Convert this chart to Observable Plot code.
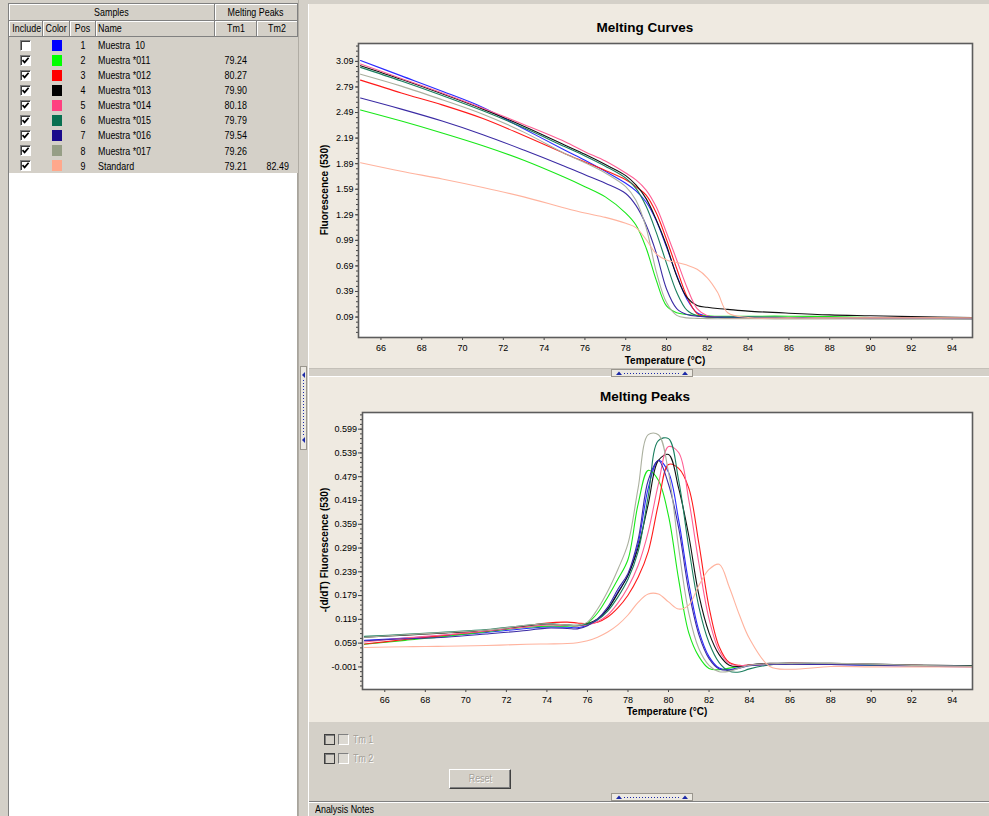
<!DOCTYPE html>
<html><head><meta charset="utf-8">
<script src="https://cdn.jsdelivr.net/npm/d3@7"></script>
<script src="https://cdn.jsdelivr.net/npm/@observablehq/plot@0.6"></script>
<style>
html,body{margin:0;padding:0}
body{width:989px;height:816px;background:#d4d0c8;position:relative;overflow:hidden;font-family:"Liberation Sans",Arial,sans-serif;font-size:11px;color:#000}
.a{position:absolute;box-sizing:border-box;white-space:nowrap}
.hd{position:absolute;box-sizing:border-box;background:#d4d0c8;border-right:1px solid #808080;border-bottom:1px solid #808080;box-shadow:inset 1px 1px 0 #fff;text-align:center;white-space:nowrap}
.panel{position:absolute;background:#efeae1}
.lbl{position:absolute;font-family:"Liberation Sans",Arial,sans-serif;font-weight:bold;text-align:center;white-space:nowrap}
.dis{color:#a4a098;text-shadow:1px 1px 0 #fff}
.sl{display:inline-block;transform:scaleX(.81);transform-origin:0 50%;white-space:pre}
.sc{display:inline-block;transform:scaleX(.81);transform-origin:50% 50%;white-space:pre}
</style></head><body>
<div id="root"></div>
<script>
// ---------- table data ----------
const samplePos = [1, 2, 3, 4, 5, 6, 7, 8, 9];
const sampleNames = ["Muestra  10", "Muestra *011", "Muestra *012", "Muestra *013", "Muestra *014", "Muestra *015", "Muestra *016", "Muestra *017", "Standard"];
const sampleColors = ["#0000ff", "#00ff00", "#ff0000", "#000000", "#ff4080", "#087050", "#1a0a8c", "#969e86", "#ffa88c"];
const lineColors = ["#2a2aff", "#18e818", "#ff1a1a", "#111111", "#ff5e94", "#1a7e5e", "#3b2ba4", "#abb09f", "#ffb39e"];
const included = [false, true, true, true, true, true, true, true, true];
const tm1 = [null, 79.24, 80.27, 79.90, 80.18, 79.79, 79.54, 79.26, 79.21];
const tm2 = [null, null, null, null, null, null, null, null, 82.49];

// ---------- axis ticks ----------
const xTicks = [66, 68, 70, 72, 74, 76, 78, 80, 82, 84, 86, 88, 90, 92, 94];
const curveYTicks = [0.09, 0.39, 0.69, 0.99, 1.29, 1.59, 1.89, 2.19, 2.49, 2.79, 3.09];
const peakYTicks = [-0.001, 0.059, 0.119, 0.179, 0.239, 0.299, 0.359, 0.419, 0.479, 0.539, 0.599];

// ---------- melting curves (fluorescence) ----------
const curveT = [65, 67, 69, 71, 73, 75, 76, 77, 78, 78.5, 79, 79.5, 80, 80.5, 81, 81.5, 82, 82.5, 83, 84, 86, 88, 90, 92, 95];
const curveM10  = [3.10, 2.92, 2.74, 2.55, 2.30, 2.05, 1.93, 1.80, 1.66, 1.57, 1.44, 1.22, 0.91, 0.58, 0.30, 0.14, 0.10, 0.095, 0.09, 0.09, 0.085, 0.08, 0.075, 0.075, 0.07];
const curveM011 = [2.52, 2.39, 2.25, 2.10, 1.93, 1.73, 1.62, 1.50, 1.31, 1.17, 0.90, 0.52, 0.22, 0.14, 0.12, 0.11, 0.105, 0.10, 0.10, 0.10, 0.10, 0.095, 0.085, 0.08, 0.075];
const curveM012 = [2.87, 2.72, 2.58, 2.42, 2.22, 2.01, 1.91, 1.81, 1.70, 1.62, 1.52, 1.31, 1.00, 0.66, 0.33, 0.13, 0.09, 0.085, 0.08, 0.08, 0.08, 0.08, 0.08, 0.08, 0.075];
const curveM013 = [3.04, 2.88, 2.71, 2.53, 2.33, 2.11, 2.00, 1.88, 1.75, 1.64, 1.48, 1.23, 0.93, 0.57, 0.32, 0.225, 0.205, 0.19, 0.18, 0.16, 0.135, 0.115, 0.105, 0.095, 0.085];
const curveM014 = [3.06, 2.89, 2.72, 2.54, 2.35, 2.15, 2.03, 1.92, 1.78, 1.70, 1.58, 1.38, 1.08, 0.76, 0.44, 0.19, 0.105, 0.09, 0.085, 0.085, 0.08, 0.08, 0.075, 0.075, 0.07];
const curveM015 = [3.02, 2.86, 2.69, 2.51, 2.31, 2.09, 1.98, 1.86, 1.72, 1.60, 1.39, 1.08, 0.72, 0.38, 0.17, 0.105, 0.09, 0.085, 0.085, 0.085, 0.08, 0.08, 0.075, 0.075, 0.07];
const curveM016 = [2.66, 2.53, 2.39, 2.23, 2.05, 1.86, 1.76, 1.66, 1.54, 1.40, 1.17, 0.84, 0.42, 0.19, 0.12, 0.10, 0.095, 0.09, 0.09, 0.09, 0.085, 0.08, 0.075, 0.075, 0.07];
const curveM017 = [2.94, 2.80, 2.64, 2.47, 2.26, 2.01, 1.90, 1.78, 1.62, 1.46, 1.14, 0.62, 0.26, 0.11, 0.08, 0.075, 0.072, 0.07, 0.07, 0.07, 0.068, 0.068, 0.066, 0.066, 0.065];
const curveStd  = [1.90, 1.80, 1.71, 1.61, 1.50, 1.37, 1.31, 1.26, 1.19, 1.14, 1.00, 0.83, 0.76, 0.73, 0.70, 0.65, 0.55, 0.38, 0.14, 0.085, 0.08, 0.08, 0.08, 0.08, 0.08];

// ---------- melting peaks (-dF/dT) ----------
const peakT = [65, 67, 69, 71, 73, 74, 75, 75.5, 76, 76.5, 77, 77.5, 78, 78.5, 79, 79.5, 80, 80.5, 81, 81.5, 82, 82.5, 83, 83.5, 84, 85, 86, 88, 90, 92, 95];
const peakM10  = [0.066, 0.072, 0.078, 0.086, 0.096, 0.100, 0.099, 0.098, 0.104, 0.118, 0.145, 0.188, 0.23, 0.31, 0.45, 0.52, 0.49, 0.37, 0.21, 0.09, 0.025, -0.004, -0.008, -0.002, 0.003, 0.006, 0.007, 0.005, 0.003, 0.001, -0.001];
const peakM011 = [0.056, 0.066, 0.076, 0.088, 0.099, 0.102, 0.102, 0.103, 0.110, 0.135, 0.175, 0.22, 0.27, 0.41, 0.495, 0.47, 0.38, 0.22, 0.085, 0.025, -0.005, -0.008, -0.004, 0.000, 0.004, 0.006, 0.007, 0.006, 0.004, 0.002, 0.000];
const peakM012 = [0.057, 0.068, 0.079, 0.090, 0.103, 0.110, 0.112, 0.110, 0.108, 0.112, 0.125, 0.148, 0.18, 0.225, 0.29, 0.41, 0.51, 0.50, 0.45, 0.31, 0.15, 0.05, 0.01, 0.003, 0.004, 0.006, 0.007, 0.006, 0.005, 0.003, 0.001];
const peakM013 = [0.074, 0.079, 0.085, 0.090, 0.102, 0.107, 0.104, 0.103, 0.108, 0.120, 0.145, 0.185, 0.23, 0.30, 0.41, 0.52, 0.535, 0.45, 0.33, 0.18, 0.085, 0.03, 0.003, 0.000, 0.004, 0.008, 0.009, 0.008, 0.006, 0.004, 0.002];
const peakM014 = [0.062, 0.072, 0.080, 0.090, 0.100, 0.105, 0.104, 0.103, 0.105, 0.113, 0.130, 0.16, 0.20, 0.255, 0.34, 0.46, 0.555, 0.54, 0.42, 0.26, 0.12, 0.04, 0.008, 0.002, 0.004, 0.006, 0.008, 0.007, 0.005, 0.003, 0.000];
const peakM015 = [0.076, 0.081, 0.087, 0.093, 0.104, 0.108, 0.105, 0.104, 0.107, 0.118, 0.140, 0.175, 0.22, 0.29, 0.43, 0.57, 0.575, 0.47, 0.30, 0.15, 0.06, 0.01, -0.012, -0.014, -0.006, 0.004, 0.007, 0.007, 0.005, 0.003, 0.001];
const peakM016 = [0.065, 0.070, 0.074, 0.082, 0.091, 0.097, 0.096, 0.095, 0.103, 0.120, 0.150, 0.195, 0.235, 0.32, 0.47, 0.52, 0.46, 0.35, 0.19, 0.08, 0.02, -0.006, -0.009, -0.004, 0.002, 0.005, 0.006, 0.005, 0.004, 0.002, 0.000];
const peakM017 = [0.074, 0.080, 0.086, 0.092, 0.104, 0.108, 0.105, 0.104, 0.112, 0.145, 0.190, 0.245, 0.31, 0.45, 0.585, 0.585, 0.49, 0.30, 0.135, 0.045, 0.003, -0.013, -0.012, -0.004, 0.003, 0.007, 0.008, 0.008, 0.006, 0.003, 0.000];
const peakStd  = [0.048, 0.050, 0.051, 0.053, 0.056, 0.057, 0.058, 0.060, 0.065, 0.074, 0.087, 0.105, 0.13, 0.162, 0.183, 0.183, 0.163, 0.145, 0.155, 0.205, 0.245, 0.258, 0.20, 0.13, 0.07, 0.000, -0.007, 0.000, -0.001, -0.001, -0.002];

const curveSeries = [curveM10, curveM011, curveM012, curveM013, curveM014, curveM015, curveM016, curveM017, curveStd];
const peakSeries = [peakM10, peakM011, peakM012, peakM013, peakM014, peakM015, peakM016, peakM017, peakStd];

const root = document.getElementById("root");
function el(tag, cls, css, html) {
  const e = document.createElement(tag);
  if (cls) e.className = cls;
  if (css) e.style.cssText = css;
  if (html != null) e.innerHTML = html;
  root.appendChild(e);
  return e;
}
const L = s => `<span class="sl">${s}</span>`;
const C = s => `<span class="sc">${s}</span>`;

// ---------- left panel ----------
el("div", "a", "left:8px;top:173px;width:290px;height:643px;background:#fff;border-left:1px solid #808080;border-right:1px solid #a8a49c");
el("div", "a", "left:8px;top:3px;width:290px;height:1px;background:#808080");
el("div", "a", "left:8px;top:3px;width:1px;height:170px;background:#808080");
el("div", "hd", "left:9px;top:4px;width:206px;height:17px;line-height:16px", C("Samples"));
el("div", "hd", "left:215px;top:4px;width:83px;height:17px;line-height:16px", C("Melting Peaks"));
const h2 = [["Include", 9, 34, "center"], ["Color", 43, 27, "center"], ["Pos", 70, 26, "center"], ["Name", 96, 119, "left"], ["Tm1", 215, 42, "center"], ["Tm2", 257, 41, "center"]];
h2.forEach(([t, x, w, al]) => el("div", "hd", `left:${x}px;top:21px;width:${w}px;height:16px;line-height:15px;text-align:${al};padding-left:${al === "left" ? 2 : 0}px`, al === "left" ? L(t) : C(t)));
samplePos.forEach((p, i) => {
  const cy = 45 + i * 15.08;
  const top = Math.round(cy - 5.5);
  const chk = included[i] ? '<svg width="9" height="9" style="position:absolute;left:0;top:0"><polyline points="1.5,4.2 3.6,6.4 7.6,1.8" fill="none" stroke="#000" stroke-width="1.7"/></svg>' : "";
  el("div", "a", `left:20px;top:${top}px;width:11px;height:11px;background:#fff;border:1px solid;border-color:#808080 #fff #fff #808080;box-shadow:inset 1px 1px 0 #404040`, chk);
  el("div", "a", `left:52px;top:${top}px;width:10px;height:11px;background:${sampleColors[i]}`);
  const ty = Math.round(cy - 7);
  el("div", "a", `left:70px;top:${ty}px;width:26px;height:14px;line-height:14px;text-align:center`, C(String(p)));
  el("div", "a", `left:98px;top:${ty}px;width:115px;height:14px;line-height:14px`, L(sampleNames[i]));
  if (tm1[i] != null) el("div", "a", `left:215px;top:${ty}px;width:42px;height:14px;line-height:14px;text-align:center`, C(tm1[i].toFixed(2)));
  if (tm2[i] != null) el("div", "a", `left:257px;top:${ty}px;width:41px;height:14px;line-height:14px;text-align:center`, C(tm2[i].toFixed(2)));
});

// ---------- right panel frames ----------
el("div", "a", "left:298px;top:0px;width:1px;height:816px;background:#b0aca4");
el("div", "a", "left:308px;top:4px;width:1px;height:812px;background:#ffffff");
el("div", "panel", "left:309px;top:4px;width:680px;height:364px");
el("div", "a", "left:309px;top:368px;width:680px;height:1px;background:#c4c0b8");
el("div", "panel", "left:309px;top:377px;width:680px;height:345px");
el("div", "a", "left:309px;top:376px;width:680px;height:1px;background:#ffffff");

// splitter buttons
el("div", "a", "left:300px;top:366px;width:7px;height:84px;background:#ece9e2;border:1px solid #9a968e",
  '<svg width="5" height="82" style="position:absolute;left:0;top:0"><path d="M4,5 L1,8 L4,11Z" fill="#1c2aa8"/><path d="M4,70 L1,73 L4,76Z" fill="#1c2aa8"/><line x1="2.5" y1="13" x2="2.5" y2="68" stroke="#1c2aa8" stroke-dasharray="1,2"/></svg>');
function hSplit(top) {
  el("div", "a", `left:611px;top:${top}px;width:82px;height:8px;background:#ece9e2;border:1px solid #9a968e`,
    '<svg width="80" height="6" style="position:absolute;left:0;top:0"><path d="M4,5 L7,1.5 L10,5Z" fill="#1c2aa8"/><path d="M70,5 L73,1.5 L76,5Z" fill="#1c2aa8"/><line x1="12" y1="3.5" x2="68" y2="3.5" stroke="#1c2aa8" stroke-dasharray="1,2"/></svg>');
}
hSplit(369);
hSplit(793);

// bottom controls
[734, 753].forEach((t, k) => {
  el("div", "a", `left:324px;top:${t}px;width:11px;height:11px;border:1px solid #404040;box-shadow:inset 1px 1px 0 #808080`);
  el("div", "a", `left:338px;top:${t}px;width:11px;height:11px;border:1px solid;border-color:#808080 #fff #fff #808080;background:#dcd9d2`);
  el("div", "a dis", `left:353px;top:${t - 1}px;height:13px;line-height:13px`, L(k === 0 ? "Tm 1" : "Tm 2"));
});
el("div", "a dis", "left:449px;top:769px;width:62px;height:20px;line-height:17px;text-align:center;border:1px solid;border-color:#fff #404040 #404040 #fff;box-shadow:inset -1px -1px 0 #808080", C("Reset"));
el("div", "a", "left:309px;top:801px;width:680px;height:15px;border-top:1px solid #808080;box-shadow:inset 0 1px 0 #fff;padding-left:6px;line-height:15px", L("Analysis Notes"));

// ---------- chart builder ----------
const tickFont = '"Liberation Sans", Arial, sans-serif';
function chart(o) {
  const marks = [Plot.frame({fill: "white", stroke: null})];
  o.series.forEach((vals, i) => {
    const rows = o.T.map((t, j) => ({t, v: vals[j]}));
    marks.push(Plot.line(rows, {x: "t", y: "v", stroke: lineColors[i], strokeWidth: 1.1, curve: "catmull-rom", clip: true}));
  });
  marks.push(Plot.axisY(o.yMinor, {tickSize: 2, tickFormat: () => "", label: null, stroke: "#444"}));
  marks.push(Plot.axisY(o.yTicks, {tickSize: o.tsY, tickPadding: o.tpY, tickFormat: o.fmt, label: null, stroke: "#444"}));
  marks.push(Plot.axisX(xTicks, {tickSize: 3, tickPadding: 4, tickFormat: d => String(d), label: null, stroke: "#444"}));
  marks.push(Plot.frame({stroke: "#5c5c5c", strokeWidth: 1.6}));
  const svg = Plot.plot({
    width: o.w, height: o.h,
    marginLeft: o.ml, marginRight: o.mr, marginTop: o.mt, marginBottom: o.mb,
    x: {domain: [64.9, 95]},
    y: {domain: o.yDomain},
    style: {background: "transparent", fontFamily: tickFont, fontSize: "9px", color: "#000", overflow: "visible"},
    marks
  });
  svg.style.position = "absolute";
  svg.style.left = o.left + "px";
  svg.style.top = o.top + "px";
  root.appendChild(svg);
}

function minorTicks(ticks, sub) {
  const step = (ticks[1] - ticks[0]) / sub;
  const out = [];
  for (let k = -sub; k < ticks.length * sub + sub; k++) out.push(ticks[0] + k * step);
  return out;
}

chart({
  T: curveT, series: curveSeries, left: 310, top: 8, w: 679, h: 360,
  ml: 48, mr: 17, mt: 35, mb: 31, yDomain: [-0.15, 3.30],
  yTicks: curveYTicks, yMinor: minorTicks(curveYTicks, 5).filter(v => v > -0.15 && v < 3.30),
  fmt: d => d.toFixed(2), tsY: 3, tpY: 2
});
chart({
  T: peakT, series: peakSeries, left: 310, top: 377, w: 679, h: 345,
  ml: 52, mr: 17, mt: 35, mb: 33, yDomain: [-0.058, 0.641],
  yTicks: peakYTicks, yMinor: minorTicks(peakYTicks, 5).filter(v => v > -0.058 && v < 0.641),
  fmt: d => d.toFixed(3), tsY: 4, tpY: 1.5
});

// ---------- chart titles and axis labels ----------
el("div", "lbl", "left:310px;top:20px;width:670px;font-size:13.5px;line-height:16px", "Melting Curves");
el("div", "lbl", "left:358px;top:355px;width:614px;font-size:10px;line-height:12px", "Temperature (°C)");
el("div", "lbl", "left:225px;top:184px;width:200px;font-size:10px;line-height:12px;transform:rotate(-90deg)", "Fluorescence (530)");
el("div", "lbl", "left:310px;top:389px;width:670px;font-size:13.5px;line-height:16px", "Melting Peaks");
el("div", "lbl", "left:362px;top:706px;width:610px;font-size:10px;line-height:12px", "Temperature (°C)");
el("div", "lbl", "left:225px;top:544px;width:200px;font-size:10px;line-height:12px;transform:rotate(-90deg)", "-(d/dT) Fluorescence (530)");
</script>
</body></html>
